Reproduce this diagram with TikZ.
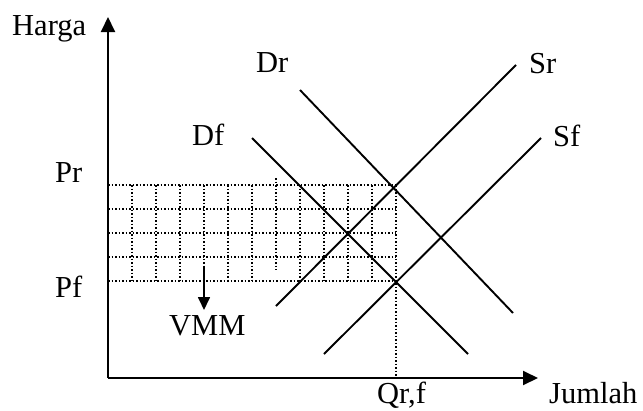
\documentclass[tikz,border=0pt]{standalone}
\usepackage{fontspec}
\setmainfont{Liberation Serif}
\usetikzlibrary{arrows.meta}
\begin{document}
\begin{tikzpicture}[x=1pt,y=-1pt,
  lbl/.style={anchor=base west,inner sep=0pt,font=\fontsize{30.5}{36}\selectfont},
  curve/.style={line width=1.9pt},
  axisline/.style={line width=2pt,-{Triangle[length=15pt,width=14pt]}},
  gridline/.style={line width=1.5pt,dotted}]
\useasboundingbox (0,0) rectangle (643,410);
% axes
\coordinate (O) at (108,378);
\coordinate (ytip) at (108,17);
\coordinate (xtip) at (538,378);
\draw[axisline] (O) -- (ytip);
\draw[axisline] (O) -- (xtip);
% grid
\foreach \y in {185,209,233,257,281} \draw[gridline] (108,\y) -- (396,\y);
\foreach \x in {132,156,180,204,228,252,300,324,348,372} \draw[gridline] (\x,185) -- (\x,281);
\draw[gridline] (276,178) -- (276,270);
\coordinate (Q) at (396,185);
\coordinate (Qb) at (396,378);
\draw[gridline] (Q) -- (Qb);
% curves
\coordinate (Sr1) at (276,306); \coordinate (Sr2) at (516,65);
\coordinate (Sf1) at (324,354); \coordinate (Sf2) at (541,138);
\coordinate (Dr1) at (300,90);  \coordinate (Dr2) at (513,313);
\coordinate (Df1) at (252,138); \coordinate (Df2) at (468,354);
\draw[curve] (Sr1) -- (Sr2);
\draw[curve] (Sf1) -- (Sf2);
\draw[curve] (Dr1) -- (Dr2);
\draw[curve] (Df1) -- (Df2);
% VMM arrow
\coordinate (v1) at (204,267);
\coordinate (v2) at (204,310);
\draw[line width=1.7pt,-{Triangle[length=13pt,width=12pt]}] (v1) -- (v2);
% labels
\node[lbl] (harga) at (12,35) {Harga};
\node[lbl] (dr) at (256,72) {Dr};
\node[lbl] (sr) at (529,73) {Sr};
\node[lbl] (df) at (192,145) {Df};
\node[lbl] (sf) at (553,146) {Sf};
\node[lbl] (pr) at (55,182) {Pr};
\node[lbl] (pf) at (55,297) {Pf};
\node[lbl] (vmm) at (169,335) {VMM};
\node[lbl] (qrf) at (377,403) {Qr,f};
\node[lbl] (jumlah) at (549,403) {Jumlah};
\end{tikzpicture}
\end{document}
